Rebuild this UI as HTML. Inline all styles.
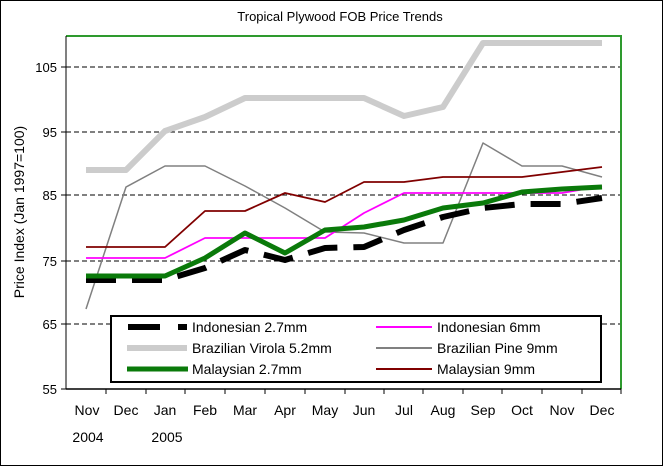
<!DOCTYPE html>
<html><head><style>body{margin:0;background:#fff}svg{display:block;font-family:"Liberation Sans",sans-serif}</style></head><body>
<svg width="663" height="466" viewBox="0 0 663 466" xmlns="http://www.w3.org/2000/svg">
<rect x="0.5" y="0.5" width="662" height="465" fill="#fff" stroke="#000"/>
<text x="340" y="21" font-size="13" text-anchor="middle">Tropical Plywood FOB Price Trends</text>
<g stroke="#000" stroke-width="1" stroke-dasharray="5,3">
<line x1="66" y1="67" x2="621" y2="67"/><line x1="66" y1="132" x2="621" y2="132"/><line x1="66" y1="195" x2="621" y2="195"/><line x1="66" y1="261" x2="621" y2="261"/><line x1="66" y1="324" x2="621" y2="324"/>
</g>
<polyline points="66,36 621,36 621,389" fill="none" stroke="#2e9a2e" stroke-width="2"/>
<line x1="66" y1="36" x2="66" y2="389" stroke="#000"/>
<line x1="66" y1="389" x2="621" y2="389" stroke="#000" stroke-width="1.5"/>
<g stroke="#000"><line x1="61" y1="67" x2="66" y2="67"/><line x1="61" y1="132" x2="66" y2="132"/><line x1="61" y1="195" x2="66" y2="195"/><line x1="61" y1="261" x2="66" y2="261"/><line x1="61" y1="324" x2="66" y2="324"/><line x1="61" y1="389" x2="66" y2="389"/>
<line x1="106" y1="389" x2="106" y2="394"/><line x1="146" y1="389" x2="146" y2="394"/><line x1="185" y1="389" x2="185" y2="394"/><line x1="225" y1="389" x2="225" y2="394"/><line x1="265" y1="389" x2="265" y2="394"/><line x1="305" y1="389" x2="305" y2="394"/><line x1="345" y1="389" x2="345" y2="394"/><line x1="384" y1="389" x2="384" y2="394"/><line x1="423" y1="389" x2="423" y2="394"/><line x1="463" y1="389" x2="463" y2="394"/><line x1="502" y1="389" x2="502" y2="394"/><line x1="542" y1="389" x2="542" y2="394"/><line x1="582" y1="389" x2="582" y2="394"/><line x1="621" y1="389" x2="621" y2="394"/></g>
<g font-size="13" text-anchor="end"><text x="57" y="72">105</text><text x="57" y="137">95</text><text x="57" y="200">85</text><text x="57" y="266">75</text><text x="57" y="329">65</text><text x="57" y="394">55</text></g>
<text transform="translate(24,212) rotate(-90)" font-size="14" text-anchor="middle">Price Index (Jan 1997=100)</text>
<g font-size="14" text-anchor="middle"><text x="87" y="415">Nov</text><text x="126" y="415">Dec</text><text x="165" y="415">Jan</text><text x="205" y="415">Feb</text><text x="245" y="415">Mar</text><text x="285" y="415">Apr</text><text x="325" y="415">May</text><text x="364" y="415">Jun</text><text x="404" y="415">Jul</text><text x="443" y="415">Aug</text><text x="483" y="415">Sep</text><text x="522" y="415">Oct</text><text x="562" y="415">Nov</text><text x="602" y="415">Dec</text><text x="88" y="442">2004</text><text x="167" y="442">2005</text></g>
<g fill="none" stroke-linejoin="round">
<polyline stroke="#cccccc" stroke-width="6" points="86,170 126,170 165,131 205,117 245,98 285,98 325,98 364,98 404,116 443,107 483,43 522,43 562,43 602,43"/>
<polyline stroke="#808080" stroke-width="1.5" points="86,309 126,187 165,166 205,166 245,186 285,208 325,232 364,233 404,243 443,243 483,143 522,166 562,166 602,177"/>
<polyline stroke="#800000" stroke-width="1.8" points="86,247 126,247 165,247 205,211 245,211 285,193 325,202 364,182 404,182 443,177 483,177 522,177 562,172 602,167"/>
<polyline stroke="#ff00ff" stroke-width="1.8" points="86,258 126,258 165,258 205,238 245,238 285,238 325,238 364,213 404,193 443,193 483,193 522,193 562,193 602,186"/>
<polyline stroke="#000" stroke-width="6" stroke-dasharray="30,16" points="86,280 126,280 165,280 205,268 245,250 285,260 325,248 364,247 404,230 443,217 483,208 522,204 562,204 602,198"/>
<polyline stroke="#0a7a0a" stroke-width="5" points="86,276 126,276 165,276 205,258 245,233 285,253 325,230 364,227 404,220 443,208 483,203 522,192 562,189 602,187"/>
</g>
<rect x="111" y="316" width="490" height="66" fill="#fff" stroke="#000" stroke-width="2"/>
<g stroke-width="2"><line x1="128" y1="327" x2="187" y2="327" stroke="#000" stroke-width="6" stroke-dasharray="32,18"/>
<line x1="127" y1="348" x2="187" y2="348" stroke="#ccc" stroke-width="6"/>
<line x1="127" y1="369" x2="188" y2="369" stroke="#0a7a0a" stroke-width="5"/>
<line x1="376" y1="327" x2="432" y2="327" stroke="#ff00ff"/>
<line x1="376" y1="348" x2="432" y2="348" stroke="#808080"/>
<line x1="376" y1="369" x2="432" y2="369" stroke="#800000"/></g>
<g font-size="14"><text x="192" y="332">Indonesian 2.7mm</text><text x="192" y="353">Brazilian Virola 5.2mm</text><text x="192" y="374">Malaysian 2.7mm</text><text x="437" y="332">Indonesian 6mm</text><text x="437" y="353">Brazilian Pine 9mm</text><text x="437" y="374">Malaysian 9mm</text></g>
</svg>
</body></html>
